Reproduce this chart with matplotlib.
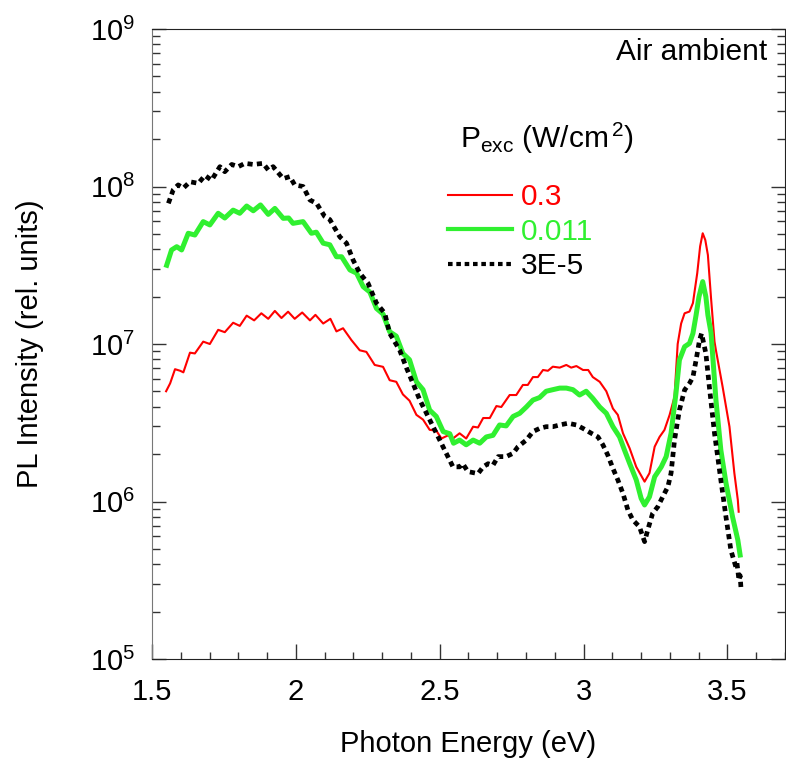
import numpy as np
import matplotlib
matplotlib.use("Agg")
import matplotlib.pyplot as plt
from matplotlib.ticker import LogLocator, MultipleLocator

plt.rcParams['font.family'] = ['Liberation Sans', 'DejaVu Sans']
plt.rcParams['mathtext.fontset'] = 'custom'
plt.rcParams['mathtext.rm'] = 'Liberation Sans'
plt.rcParams['mathtext.it'] = 'Liberation Sans:italic'
plt.rcParams['mathtext.bf'] = 'Liberation Sans:bold'

# photon energy (eV) and log10 of PL intensity
red_E = [1.549, 1.563, 1.580, 1.598, 1.609, 1.632, 1.649, 1.678, 1.701, 1.730,
         1.753, 1.782, 1.805, 1.829, 1.855, 1.880, 1.904, 1.927, 1.950, 1.973,
         1.996, 2.022, 2.049, 2.068, 2.095, 2.120, 2.141, 2.164, 2.193, 2.222,
         2.245, 2.274, 2.303, 2.326, 2.349, 2.372, 2.395, 2.419, 2.442, 2.465,
         2.488, 2.506, 2.529, 2.546, 2.569, 2.592, 2.616, 2.633, 2.651, 2.674,
         2.697, 2.714, 2.743, 2.766, 2.789, 2.806, 2.824, 2.841, 2.859, 2.876,
         2.893, 2.917, 2.940, 2.957, 2.975, 2.998, 3.016, 3.032, 3.056, 3.079,
         3.102, 3.119, 3.137, 3.160, 3.183, 3.212, 3.229, 3.247, 3.264, 3.281,
         3.299, 3.316, 3.327, 3.339, 3.351, 3.368, 3.380, 3.395, 3.405, 3.414,
         3.423, 3.432, 3.443, 3.455, 3.460, 3.483, 3.507, 3.524, 3.536, 3.539]
red_log = [6.70, 6.75, 6.84, 6.83, 6.82, 6.945, 6.94, 7.015, 7.00, 7.09,
           7.075, 7.135, 7.115, 7.18, 7.15, 7.195, 7.16, 7.21, 7.165, 7.205,
           7.16, 7.20, 7.15, 7.185, 7.13, 7.16, 7.08, 7.10, 7.025, 6.96,
           6.95, 6.867, 6.855, 6.77, 6.76, 6.68, 6.64, 6.55, 6.52, 6.455,
           6.45, 6.40, 6.42, 6.40, 6.433, 6.40, 6.475, 6.47, 6.53, 6.53,
           6.606, 6.60, 6.676, 6.676, 6.74, 6.74, 6.79, 6.79, 6.835, 6.83,
           6.856, 6.85, 6.867, 6.85, 6.86, 6.835, 6.835, 6.79, 6.76, 6.70,
           6.59, 6.55, 6.433, 6.338, 6.22, 6.126, 6.18, 6.348, 6.41, 6.454,
           6.55, 6.665, 7.0, 7.13, 7.195, 7.206, 7.26, 7.45, 7.62, 7.703,
           7.66, 7.565, 7.29, 7.015, 6.96, 6.73, 6.475, 6.18, 6.01, 5.935]

green_E = [1.551, 1.568, 1.586, 1.603, 1.626, 1.649, 1.678, 1.701, 1.730, 1.753,
           1.782, 1.805, 1.829, 1.852, 1.877, 1.904, 1.927, 1.956, 1.975, 1.990,
           2.025, 2.054, 2.071, 2.095, 2.118, 2.141, 2.159, 2.188, 2.211, 2.234,
           2.257, 2.280, 2.303, 2.326, 2.349, 2.372, 2.395, 2.419, 2.442, 2.465,
           2.488, 2.512, 2.535, 2.548, 2.569, 2.592, 2.616, 2.639, 2.662, 2.685,
           2.708, 2.731, 2.755, 2.778, 2.801, 2.824, 2.847, 2.870, 2.893, 2.917,
           2.940, 2.963, 2.986, 3.009, 3.032, 3.056, 3.079, 3.102, 3.125, 3.142,
           3.160, 3.183, 3.200, 3.212, 3.229, 3.247, 3.270, 3.287, 3.304, 3.321,
           3.333, 3.351, 3.368, 3.380, 3.391, 3.401, 3.414, 3.425, 3.432, 3.443,
           3.460, 3.477, 3.495, 3.518, 3.536, 3.544]
green_log = [7.50, 7.597, 7.618, 7.597, 7.703, 7.692, 7.777, 7.756, 7.83, 7.80,
             7.85, 7.83, 7.876, 7.846, 7.883, 7.823, 7.861, 7.798, 7.80, 7.766,
             7.777, 7.703, 7.71, 7.64, 7.63, 7.554, 7.554, 7.47, 7.45, 7.364,
             7.33, 7.226, 7.19, 7.078, 7.05, 6.94, 6.90, 6.76, 6.71, 6.58,
             6.54, 6.444, 6.43, 6.37, 6.39, 6.36, 6.39, 6.37, 6.41, 6.42,
             6.486, 6.48, 6.54, 6.56, 6.60, 6.644, 6.66, 6.70, 6.71, 6.72,
             6.72, 6.71, 6.676, 6.70, 6.655, 6.60, 6.56, 6.475, 6.41, 6.327,
             6.242, 6.137, 6.02, 5.978, 6.03, 6.157, 6.22, 6.285, 6.433, 6.687,
             6.898, 6.983, 7.004, 7.067, 7.184, 7.30, 7.396, 7.30, 7.184, 7.07,
             6.644, 6.327, 6.116, 5.90, 5.756, 5.66]

black_E = [1.557, 1.574, 1.591, 1.609, 1.632, 1.661, 1.684, 1.707, 1.736, 1.753,
           1.777, 1.800, 1.823, 1.852, 1.886, 1.904, 1.921, 1.956, 1.979, 1.996,
           2.025, 2.049, 2.072, 2.100, 2.118, 2.153, 2.176, 2.199, 2.222, 2.251,
           2.280, 2.309, 2.326, 2.361, 2.384, 2.407, 2.431, 2.454, 2.477, 2.500,
           2.517, 2.546, 2.569, 2.580, 2.598, 2.633, 2.651, 2.668, 2.685, 2.703,
           2.731, 2.755, 2.772, 2.801, 2.824, 2.847, 2.870, 2.893, 2.917, 2.946,
           2.975, 2.998, 3.027, 3.050, 3.067, 3.084, 3.102, 3.119, 3.137, 3.154,
           3.171, 3.194, 3.212, 3.223, 3.240, 3.258, 3.275, 3.293, 3.304, 3.316,
           3.333, 3.351, 3.368, 3.380, 3.391, 3.403, 3.410, 3.425, 3.437, 3.455,
           3.477, 3.495, 3.512, 3.529, 3.533, 3.540, 3.544, 3.547]
black_log = [7.893, 7.98, 8.01, 7.99, 8.03, 8.02, 8.07, 8.04, 8.126, 8.094,
             8.14, 8.126, 8.147, 8.14, 8.147, 8.105, 8.126, 8.05, 8.063, 8.01,
             8.0, 7.914, 7.893, 7.81, 7.79, 7.68, 7.64, 7.533, 7.45, 7.385,
             7.26, 7.195, 7.068, 6.96, 6.85, 6.75, 6.644, 6.56, 6.475, 6.39,
             6.327, 6.22, 6.22, 6.24, 6.19, 6.177, 6.22, 6.24, 6.23, 6.285,
             6.285, 6.306, 6.348, 6.39, 6.444, 6.464, 6.475, 6.475, 6.486, 6.497,
             6.486, 6.464, 6.433, 6.41, 6.36, 6.295, 6.21, 6.137, 6.05, 5.946,
             5.883, 5.84, 5.745, 5.82, 5.925, 5.967, 6.03, 6.094, 6.18, 6.39,
             6.58, 6.708, 6.75, 6.79, 6.898, 7.025, 7.067, 6.94, 6.73, 6.433,
             6.137, 5.90, 5.69, 5.586, 5.61, 5.50, 5.53, 5.45]

labels = ['0.3', '0.011', '3E-5']
colors = ['#ff0000', '#30f030', '#000000']

W, H = 786, 762
fig = plt.figure(figsize=(W / 100, H / 100), dpi=100)
ax = fig.add_axes([152 / W, 1 - 659 / H, 633 / W, 630 / H])

ax.plot(red_E, 10 ** np.array(red_log), color=colors[0], lw=1.5, label=labels[0])
ax.plot(green_E, 10 ** np.array(green_log), color=colors[1], lw=3.6, label=labels[1])
ax.plot(black_E, 10 ** np.array(black_log), color=colors[2], lw=3.4,
        dashes=(1.1, 0.9), label=labels[2])

ax.set_yscale('log')
ax.set_xlim(1.5, 3.7)
ax.set_ylim(1e5, 1e9)
ax.xaxis.set_minor_locator(MultipleLocator(0.1))
ax.yaxis.set_major_locator(LogLocator(base=10, numticks=10))
ax.yaxis.set_minor_locator(LogLocator(base=10, subs=np.arange(2, 10), numticks=10))
ax.set_xticks([1.5, 2, 2.5, 3, 3.5])
ax.set_xticklabels(['1.5', '2', '2.5', '3', '3.5'])

ax.tick_params(which='both', direction='in', right=True, top=False,
               labelsize=21, color='#333333')
ax.tick_params(axis='x', which='major', length=11, width=1, pad=14)
ax.tick_params(axis='x', which='minor', length=5, width=1)
ax.tick_params(axis='y', which='major', length=10, width=1, pad=12)
ax.tick_params(axis='y', which='minor', length=6, width=1)
ax.spines['left'].set_color('#777777')
for s in ['bottom', 'top', 'right']:
    ax.spines[s].set_color('#222222')

ax.set_xlabel('Photon Energy (eV)', fontsize=21, labelpad=17)
ax.set_ylabel('PL Intensity (rel. units)', fontsize=21, labelpad=33)

ax.text(0.972, 0.985, 'Air ambient', transform=ax.transAxes, ha='right',
        va='top', fontsize=21.5)

fig.text(460 / W, 1 - 148 / H, r'P$_{\rm exc}$ (W/cm$^{\,2}$)', fontsize=21.5,
         ha='left', va='baseline')
leg = ax.legend(loc='upper left', bbox_to_anchor=(448 / W, 1 - 183 / H),
                bbox_transform=fig.transFigure, frameon=False, fontsize=21.5,
                handlelength=2.15, handletextpad=0.3, labelspacing=0.22,
                borderpad=0, borderaxespad=0, labelcolor='linecolor')
for h in leg.get_lines():
    h.set_linewidth(min(h.get_linewidth(), 3.0))

fig.savefig('out.png', dpi=100)
